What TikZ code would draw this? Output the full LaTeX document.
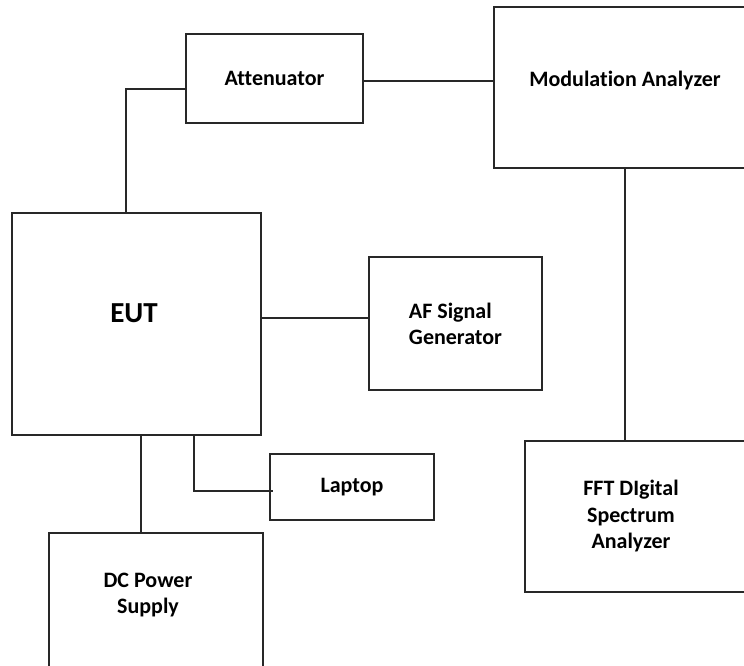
\documentclass[tikz,border=0pt]{standalone}
\usepackage{fontspec}
\setmainfont{Carlito}[Ligatures={NoCommon}]
\usepackage{tikz}
\usetikzlibrary{positioning,calc}
\definecolor{edge}{RGB}{40,40,40}
\tikzset{
  blk/.style={draw=edge, line width=1.6pt, inner sep=0pt, align=center,
    font=\fontsize{22}{26}\selectfont\bfseries},
  blktext/.style={inner sep=0pt, align=center, font=\fontsize{22}{26.5}\selectfont\bfseries},
  wire/.style={draw=edge, line width=1.6pt}
}

\begin{document}
\begin{tikzpicture}[x=1pt,y=-1pt, line join=miter]
\useasboundingbox (0,0) rectangle (744,665);
\clip (0,0) rectangle (744,665);

% Blocks
\node[blk, minimum width=177pt, minimum height=89pt] (att) at (274.5,78.5) {Attenuator};
\node[blk, minimum width=262pt, minimum height=161pt] (mod) at (625,87.5) {};
\node[blk, minimum width=249pt, minimum height=222pt] (eut) at (136.5,324) {};
\node[blk, minimum width=173pt, minimum height=133pt, align=left] (af) at (455.5,323.5) {AF Signal\\Generator};
\node[blk, minimum width=164pt, minimum height=66pt] (lap) at (352,487) {Laptop};
\node[blk, minimum width=235pt, minimum height=151pt] (fft) at (642.5,516.5) {};
\node[blk, minimum width=214pt, minimum height=147pt] (dc) at (156,606.5) {};

% Texts set off-centre
\node[blktext] (modT) at (625,81) {Modulation Analyzer};
\node[blktext, font=\fontsize{29}{34}\selectfont\bfseries] (eutT) at (134,313) {EUT};
\node[blktext] (fftT) at (631,516) {FFT DIgital\\Spectrum\\Analyzer};
\node[blktext] (dcT) at (148,595) {DC Power\\Supply};

% Wires
\draw[wire] ([xshift=-10.5pt]eut.north) |- ([yshift=-10.5pt]att.west);
\draw[wire] ([yshift=-2.5pt]att.east) -- ([yshift=-2.5pt]att.east -| mod.west);
\draw[wire] (mod.south) -- (mod.south |- fft.north);
\draw[wire] ([yshift=6pt]eut.east) -- ([yshift=6pt]eut.east -| af.west);
\draw[wire] ([xshift=4.5pt]eut.south) -- ([xshift=4.5pt]eut.south |- dc.north);
\draw[wire] ([xshift=57.5pt]eut.south) |- ([xshift=4pt,yshift=-4pt]lap.west);
\end{tikzpicture}
\end{document}
